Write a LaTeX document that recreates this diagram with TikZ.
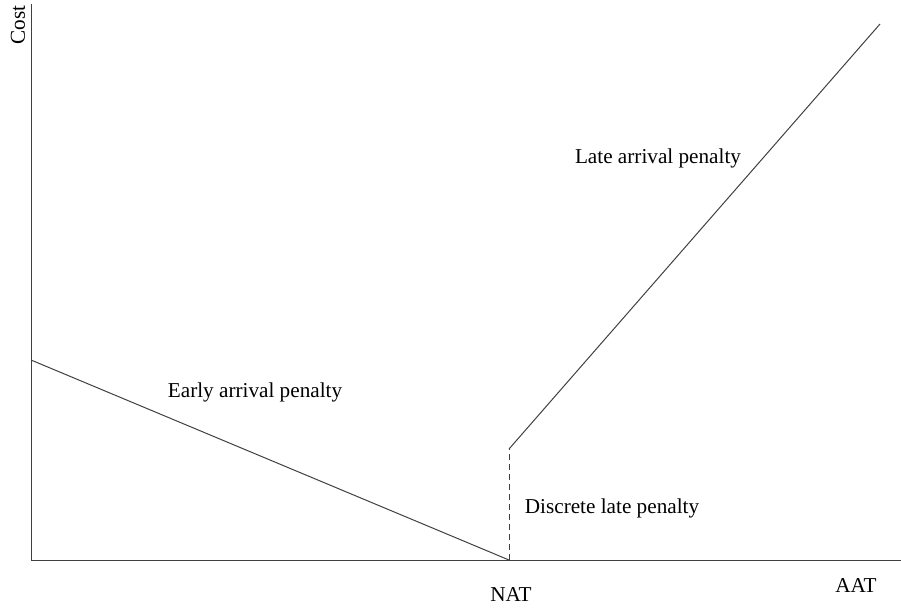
\documentclass[tikz,border=0pt]{standalone}
\usepackage{fontspec}
\setmainfont{Liberation Serif}
\begin{document}
\begin{tikzpicture}[x=1pt,y=-1pt,
  ax/.style={line width=1pt, draw=black!75},
  lbl/.style={font=\fontsize{21.2}{25}\selectfont, inner sep=0pt}]
\useasboundingbox (0,0) rectangle (901,608);
\coordinate (o) at (31,560);
\coordinate (ytop) at (31,4);
\coordinate (xend) at (901,560);
\coordinate (e0) at (31,360);
\coordinate (nat) at (509,560);
\coordinate (d) at (509,449);
\coordinate (l1) at (880,24);
\draw[ax] (ytop) -- (o) -- (xend);
\draw[ax] (e0) -- (nat);
\draw[ax, dash pattern=on 6pt off 4pt] (nat) -- (d);
\draw[ax] (d) -- (l1);
\node[lbl, rotate=90] (cost) at (18,25) {Cost};
\node[lbl] (aat) at (856,585) {AAT};
\node[lbl] (natl) at (511,594) {NAT};
\node[lbl] (early) at (255,392) {Early arrival penalty};
\node[lbl] (late) at (658,158) {Late arrival penalty};
\node[lbl] (disc) at (612,508) {Discrete late penalty};
\end{tikzpicture}
\end{document}
